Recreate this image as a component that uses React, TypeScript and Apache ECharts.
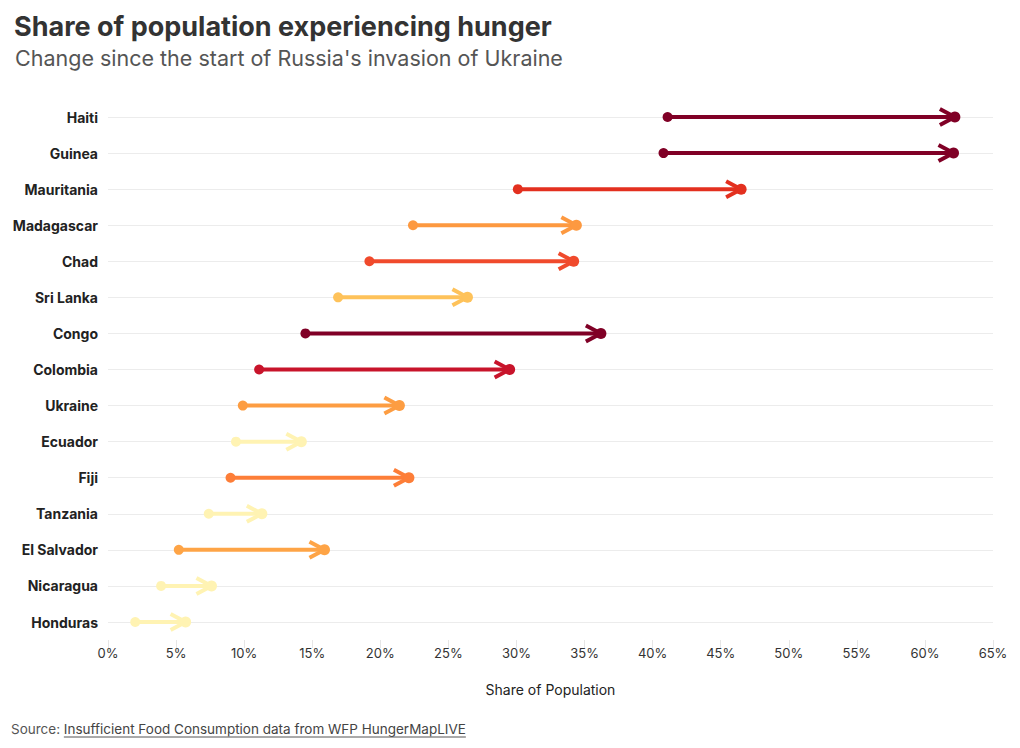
import React, { useEffect, useRef } from 'react';
import * as echarts from 'echarts';

// countries, top to bottom
const countries = [
  'Haiti', 'Guinea', 'Mauritania', 'Madagascar', 'Chad', 'Sri Lanka', 'Congo',
  'Colombia', 'Ukraine', 'Ecuador', 'Fiji', 'Tanzania', 'El Salvador', 'Nicaragua', 'Honduras',
];
// share of population (%) at the start of the invasion and now
const before = [41.1, 40.8, 30.1, 22.4, 19.2, 16.9, 14.5, 11.1, 9.9, 9.4, 9.0, 7.4, 5.2, 3.9, 2.0];
const after = [62.2, 62.1, 46.5, 34.4, 34.2, 26.4, 36.2, 29.5, 21.4, 14.2, 22.1, 11.3, 15.9, 7.6, 5.7];
const xTicks = { min: 0, max: 65, step: 5 };

// one colour per row, darker for a bigger change
const rowColors = [
  '#800026', '#800026', '#e3301f', '#fd9940', '#f04a2c', '#fec25a', '#800026',
  '#c8142b', '#fd9d42', '#fff3b3', '#fd7e38', '#fff3b3', '#fea446', '#fff3b3', '#fff3b3',
];

const FONT = 'Inter, Roboto, sans-serif';
const SOURCE_FONT = `13.5px ${FONT}`;

function textWidth(text: string, font: string) {
  const ctx = document.createElement('canvas').getContext('2d');
  if (!ctx) return text.length * 7;
  ctx.font = font;
  return ctx.measureText(text).width;
}

export default function App() {
  const chartRef = useRef<HTMLDivElement>(null);

  useEffect(() => {
    if (!chartRef.current) return;
    const chart = echarts.init(chartRef.current, null, { renderer: 'svg' });

    const data = countries.map((c, i) => ({
      name: c,
      value: [before[i], after[i], i],
      itemStyle: { color: rowColors[i] },
    }));

    const linkText = 'Insufficient Food Consumption data from WFP HungerMapLIVE';
    const linkX = 11 + textWidth('Source: ', SOURCE_FONT);
    const linkW = textWidth(linkText, SOURCE_FONT);

    const option = {
      animation: false,
      backgroundColor: '#fff',
      textStyle: { fontFamily: FONT },
      title: [
        {
          text: 'Share of population experiencing hunger',
          left: 9, top: 8,
          textStyle: { fontFamily: FONT, fontSize: 27, fontWeight: 'bold', color: '#333' },
        },
        {
          text: "Change since the start of Russia's invasion of Ukraine",
          left: 10, top: 42,
          textStyle: { fontFamily: FONT, fontSize: 21.5, fontWeight: 'normal', color: '#555' },
        },
      ],
      grid: { left: 108, right: 27, top: 117, bottom: 126 },
      xAxis: {
        type: 'value',
        min: xTicks.min,
        max: xTicks.max,
        interval: xTicks.step,
        offset: 18,
        name: 'Share of Population',
        nameLocation: 'middle',
        nameGap: 42,
        nameTextStyle: { fontFamily: FONT, fontSize: 14, color: '#222' },
        axisLine: { show: false },
        axisTick: { show: true, length: 8, lineStyle: { color: '#e6e6e6' } },
        axisLabel: { fontFamily: FONT, fontSize: 13, color: '#333', margin: 6, formatter: '{value}%' },
        splitLine: { show: false },
      },
      yAxis: {
        type: 'category',
        data: countries,
        inverse: true,
        boundaryGap: false,
        axisLine: { show: false },
        axisTick: { show: false },
        axisLabel: { fontFamily: FONT, fontSize: 14, fontWeight: 'bold', color: '#222', margin: 10 },
        splitLine: { show: true, lineStyle: { color: '#ececec', width: 1 } },
      },
      series: [
        {
          type: 'custom',
          encode: { x: [0, 1], y: 2 },
          data,
          renderItem: (params: any, api: any) => {
            const s = api.coord([api.value(0), api.value(2)]);
            const e = api.coord([api.value(1), api.value(2)]);
            const color = api.visual('color');
            return {
              type: 'group',
              children: [
                {
                  type: 'line',
                  shape: { x1: s[0], y1: s[1], x2: e[0] - 2, y2: e[1] },
                  style: { stroke: color, lineWidth: 4 },
                },
                {
                  type: 'polyline',
                  shape: { points: [[e[0] - 15, e[1] - 8], [e[0], e[1]], [e[0] - 15, e[1] + 8]] },
                  style: { stroke: color, lineWidth: 4, fill: 'none', lineJoin: 'miter' },
                },
                { type: 'circle', shape: { cx: s[0], cy: s[1], r: 5 }, style: { fill: color } },
                { type: 'circle', shape: { cx: e[0], cy: e[1], r: 5.5 }, style: { fill: color } },
              ],
            };
          },
        },
      ],
      graphic: [
        {
          type: 'text',
          left: 11, top: 722,
          style: { text: 'Source: ', font: SOURCE_FONT, fill: '#555' },
        },
        {
          type: 'text',
          left: linkX, top: 722,
          style: { text: linkText, font: SOURCE_FONT, fill: '#444' },
        },
        {
          type: 'line',
          shape: { x1: linkX, y1: 737, x2: linkX + linkW, y2: 737 },
          style: { stroke: '#555', lineWidth: 1 },
        },
      ],
    };

    chart.setOption(option);
    return () => chart.dispose();
  }, []);

  return (
    <div
      ref={chartRef}
      style={{ position: 'fixed', left: 0, top: 0, width: 1020, height: 748 }}
    />
  );
}
